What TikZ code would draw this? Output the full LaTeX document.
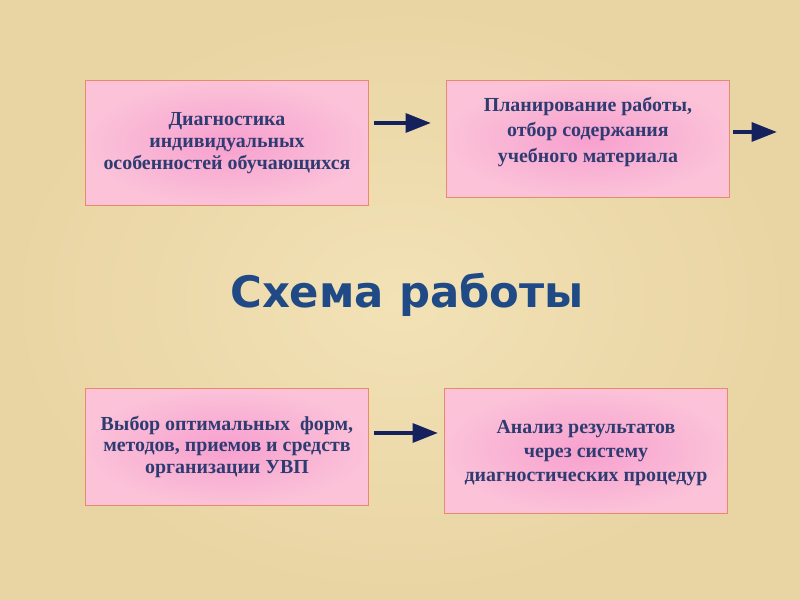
\documentclass[tikz,border=0pt]{standalone}
\usepackage{fontspec}
\setmainfont{Liberation Serif}
\newfontfamily\titlefont{DejaVu Sans}
\usetikzlibrary{arrows.meta,positioning}
\definecolor{parchment}{HTML}{E9D4A3}
\definecolor{parchlight}{HTML}{F2E2B6}
\definecolor{boxpink}{HTML}{F7A0CF}
\definecolor{boxpale}{HTML}{FBC2D8}
\definecolor{boxedge}{HTML}{E88A6C}
\definecolor{inkblue}{HTML}{2F3C72}
\definecolor{titleblue}{HTML}{1F4A86}
\definecolor{arrownavy}{HTML}{15215C}
\tikzset{
  workbox/.style={draw=boxedge,line width=0.8pt,inner color=boxpink,outer color=boxpale,
    minimum width=283*0.03cm,anchor=north west},
  boxtext/.style={font=\fontsize{17}{19}\selectfont\bfseries,text=inkblue,align=center},
  flowarrow/.style={-{Triangle[length=7.6mm,width=5.6mm]},line width=3.4pt,arrownavy},
}
\begin{document}
\begin{tikzpicture}[x=0.03cm,y=-0.03cm]
    \fill[inner color=parchlight,outer color=parchment] (0,0) rectangle (800,600);
    \useasboundingbox (0,0) rectangle (800,600);
    % boxes
    \node[workbox,minimum height=125*0.03cm] (diag) at (85,80) {};
    \node[workbox,minimum height=117*0.03cm] (plan) at (446,80) {};
    \node[workbox,minimum height=117*0.03cm] (choice) at (85,388) {};
    \node[workbox,minimum height=125*0.03cm] (anal) at (444,388) {};
    % texts
    \node[boxtext] (diagtext) at (diag) {Диагностика\\индивидуальных\\особенностей обучающихся};
    \node[boxtext,font=\fontsize{17}{22}\selectfont\bfseries,yshift=6pt] (plantext) at (plan)
      {Планирование работы,\\отбор содержания\\учебного материала};
    \node[boxtext,font=\fontsize{17}{18}\selectfont\bfseries] (choicetext) at (choice)
      {Выбор оптимальных\ \ форм,\\методов, приемов и средств\\организации УВП};
    \node[boxtext,font=\fontsize{17}{20.5}\selectfont\bfseries,yshift=-2pt] (analtext) at (anal)
      {Анализ результатов\\через систему\\диагностических процедур};
    \node[font=\titlefont\bfseries\fontsize{37}{44}\selectfont,text=titleblue] (title) at (407,295) {Схема работы};
    % arrows
    \coordinate (a1s) at (374,123);
    \coordinate (a1e) at (431,123);
    \coordinate (a2s) at (733,132);
    \coordinate (a2e) at (777,132);
    \coordinate (a3s) at (374,433);
    \coordinate (a3e) at (438,433);
    \draw[flowarrow] (a1s) -- (a1e);
    \draw[flowarrow] (a2s) -- (a2e);
    \draw[flowarrow] (a3s) -- (a3e);
\end{tikzpicture}
\end{document}
